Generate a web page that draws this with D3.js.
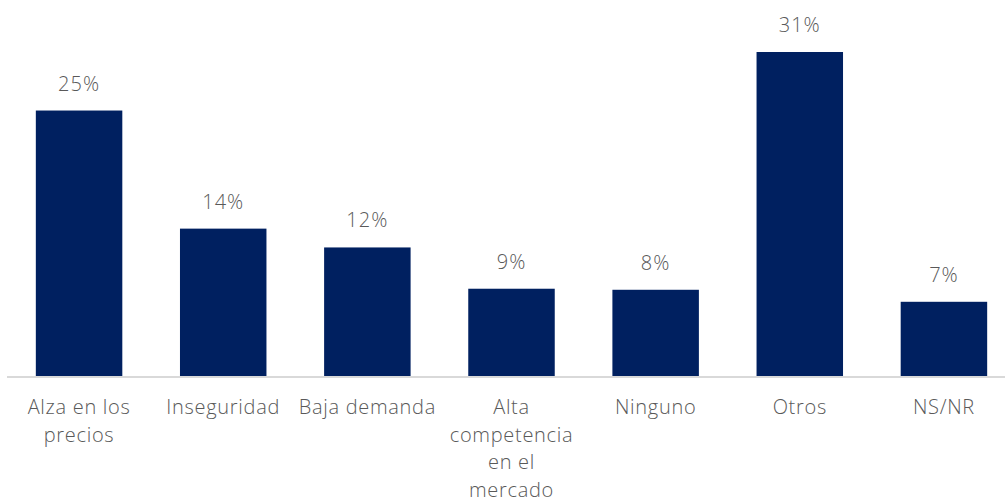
<!DOCTYPE html>
<html><head><meta charset="utf-8">
<script src="https://cdn.jsdelivr.net/npm/d3@7"></script>
<style>
html,body{margin:0;padding:0;background:#fff;}
svg text{font-family:"Open Sans","Lato",sans-serif;font-weight:300;fill:#595959;}
</style></head>
<body><svg id="c" width="1005" height="498"></svg>
<script>
const categories = [["Alza en los","precios"],["Inseguridad"],["Baja demanda"],["Alta","competencia","en el","mercado"],["Ninguno"],["Otros"],["NS/NR"]];
const values = [25.4, 14.1, 12.3, 8.35, 8.25, 31.0, 7.1];
const valueLabels = ["25%","14%","12%","9%","8%","31%","7%"];

const svg = d3.select("#c");
const baseY = 376;
const x = d3.scaleBand().domain(d3.range(categories.length)).range([7, 1016]).paddingInner(0.4).paddingOuter(0.2);
const y = d3.scaleLinear().domain([0, 31]).range([baseY, 52]);

svg.selectAll("rect.bar").data(values).join("rect").attr("class","bar")
  .attr("x",(d,i)=>x(i)).attr("width",x.bandwidth())
  .attr("y",d=>y(d)).attr("height",d=>baseY-y(d)).attr("fill","#002060");

svg.append("line").attr("x1",7).attr("x2",1005).attr("y1",baseY+1).attr("y2",baseY+1)
  .attr("stroke","#d9d9d9").attr("stroke-width",2);

svg.selectAll("text.val").data(values).join("text").attr("class","val")
  .attr("x",(d,i)=>x(i)+x.bandwidth()/2).attr("y",d=>y(d)-20)
  .attr("text-anchor","middle").attr("font-size",20).attr("letter-spacing","1px").text((d,i)=>valueLabels[i]);

const g = svg.selectAll("text.cat").data(categories).join("text").attr("class","cat")
  .attr("x",(d,i)=>x(i)+x.bandwidth()/2).attr("y",414)
  .attr("text-anchor","middle").attr("font-size",20).attr("letter-spacing","0.7px");
g.selectAll("tspan").data((d,i)=>d.map(s=>({s,i}))).join("tspan")
  .attr("x",d=>x(d.i)+x.bandwidth()/2).attr("dy",(d,j)=>j===0?0:27.5).text(d=>d.s);
</script></body></html>
